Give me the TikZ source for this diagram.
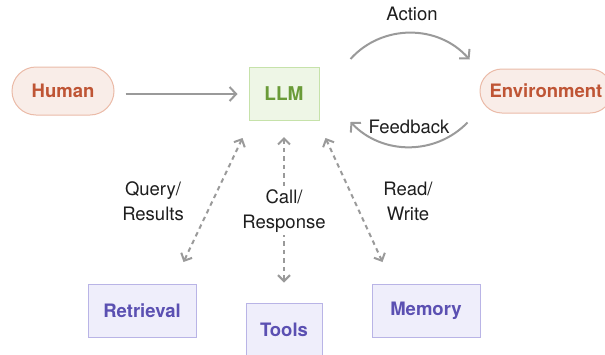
\documentclass[tikz,border=0pt]{standalone}
\usepackage{fontspec}
\setmainfont{TeX Gyre Heros}
\usetikzlibrary{arrows.meta}
\definecolor{hfill}{HTML}{F9EDE8}
\definecolor{hdraw}{HTML}{EBBBA8}
\definecolor{htext}{HTML}{BF5535}
\definecolor{lfill}{HTML}{EEF6E6}
\definecolor{ldraw}{HTML}{C6E2AA}
\definecolor{ltext}{HTML}{6A9B38}
\definecolor{pfill}{HTML}{EFEEFB}
\definecolor{pdraw}{HTML}{B9B4E6}
\definecolor{ptext}{HTML}{5B50B2}
\definecolor{arrgray}{HTML}{9A9A9A}
\definecolor{lbl}{HTML}{1E1E1E}
\tikzset{
  pill/.style={draw=hdraw, fill=hfill, line width=1pt, rounded corners=22pt, text=htext, font=\fontsize{18.5}{20}\selectfont\bfseries, inner sep=0pt},
  llmbox/.style={draw=ldraw, fill=lfill, line width=1pt, text=ltext, font=\fontsize{19}{21}\selectfont\bfseries, minimum width=70pt, minimum height=53pt, inner sep=0pt},
  pbox/.style={draw=pdraw, fill=pfill, line width=1pt, text=ptext, font=\fontsize{18.5}{20}\selectfont\bfseries, minimum height=53pt, inner sep=0pt},
  lab/.style={text=lbl, font=\fontsize{18.5}{25}\selectfont, align=center, inner sep=1pt},
  arr/.style={draw=arrgray, line width=2pt, -{Straight Barb[length=6.5pt, width=14pt]}},
  darr/.style={draw=arrgray, line width=2pt, dash pattern=on 4.5pt off 4pt, {Straight Barb[length=6pt, width=12pt]}-{Straight Barb[length=6pt, width=12pt]}},
}
\begin{document}
\begin{tikzpicture}[x=1pt,y=-1pt]
\clip (0,0) rectangle (605,354);
\fill[white] (0,0) rectangle (605,354);
\node[pill, minimum width=102pt, minimum height=48pt, rounded corners=24pt] (human) at (63,91) {Human};
\node[llmbox] (llm) at (284,94) {LLM};
\node[pill, minimum width=132pt, minimum height=44pt] (env) at (546,91) {Environment};
\node[pbox, minimum width=108pt] (ret) at (142,311) {Retrieval};
\node[pbox, minimum width=76pt, minimum height=54pt] (tools) at (284,330) {Tools};
\node[pbox, minimum width=108pt] (mem) at (426,311) {Memory};

\draw[arr, shorten <=11pt, shorten >=11pt] (human.east |- llm.west) -- (llm.west);

\coordinate (actA) at ([shift={(31,-8)}]llm.north east);
\coordinate (actB) at ([shift={(-10,-9)}]env.north west);
\draw[arr] (actA) .. controls (382,24) and (438,24) .. (actB);
\node[lab] (action) at (412,14) {Action};

\coordinate (fbA) at ([shift={(-12,9)}]env.south west);
\coordinate (fbB) at ([shift={(31,1)}]llm.south east);
\draw[arr] (fbA) .. controls (435.7,155.4) and (382.3,155.4) .. (fbB);
\node[lab] (feedback) at (409,127) {Feedback};

\draw[darr] ([shift={(-6,17)}]llm.south west) -- ([shift={(-13,-22)}]ret.north east);
\draw[darr] ([shift={(0,16)}]llm.south) -- ([shift={(0,-20)}]tools.north);
\draw[darr] ([shift={(6,17)}]llm.south east) -- ([shift={(11,-22)}]mem.north west);

\node[lab] (qr) at (153,201) {Query/\\Results};
\node[lab, fill=white, inner sep=3pt] (cr) at (284,211) {Call/\\Response};
\node[lab] (rw) at (408,201) {Read/\\Write};
\end{tikzpicture}
\end{document}
